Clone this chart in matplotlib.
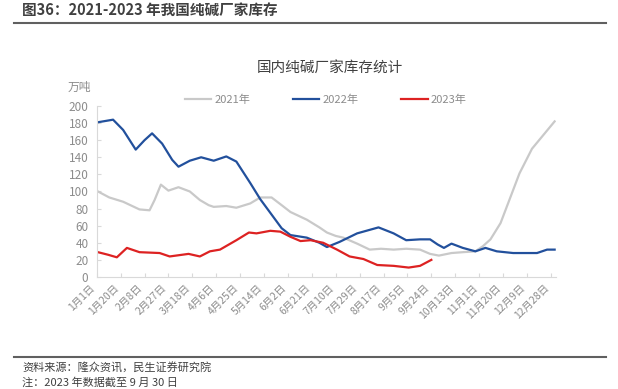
## 纯碱厂家库存 2021-2023
import numpy as np
import matplotlib.pyplot as plt

plt.rcParams['font.family'] = ['Noto Sans CJK SC', 'DejaVu Sans']

# jours depuis le 1er janvier, valeurs en 万吨
day_2021 = [1, 10, 21, 34, 42, 46, 51, 57, 65, 74, 82, 89, 93, 103, 111, 122, 130,
            139, 147, 154, 167, 177, 183, 190, 196, 207, 217, 226, 236, 246, 257,
            265, 272, 282, 291, 301, 307, 313, 321, 328, 336, 346, 364]
val_2021 = [100, 93, 88, 79, 78, 90, 108, 101, 105, 100, 90, 84, 82, 83, 81, 86, 93,
            93, 84, 76, 67, 58, 52, 48, 46, 39, 32, 33, 32, 33, 32,
            27, 25, 28, 29, 30, 36, 44, 63, 90, 121, 150, 182]

day_2022 = [1, 13, 21, 31, 38, 44, 52, 60, 65, 74, 83, 93, 103, 111, 122, 130, 139,
            147, 154, 167, 177, 183, 193, 207, 224, 236, 246, 257, 265, 271, 276,
            282, 291, 301, 309, 318, 331, 350, 358, 364]
val_2022 = [181, 184, 172, 149, 160, 168, 156, 137, 129, 136, 140, 136, 141, 135,
            110, 91, 73, 57, 49, 46, 40, 35, 41, 51, 58, 51, 43, 44, 44, 38, 34,
            39, 34, 30, 34, 30, 28, 28, 32, 32]

day_2023 = [1, 9, 16, 24, 34, 50, 58, 73, 82, 90, 98, 111, 121, 127, 138, 146, 154,
            162, 170, 180, 191, 201, 212, 223, 236, 248, 257, 266]
val_2023 = [29, 26, 23, 34, 29, 28, 24, 27, 24, 30, 32, 43, 52, 51, 54, 53, 47,
            42, 43, 40, 32, 24, 21, 14, 13, 11, 13, 20]

tick_labels = ['1月1日', '1月20日', '2月8日', '2月27日', '3月18日', '4月6日',
               '4月25日', '5月14日', '6月2日', '6月21日', '7月10日', '7月29日',
               '8月17日', '9月5日', '9月24日', '10月13日', '11月1日', '11月20日',
               '12月9日', '12月28日']

fig = plt.figure(figsize=(6.18, 3.89), dpi=100)
ax = fig.add_axes([0.1565, 0.288, 0.743, 0.4395])

ax.plot(day_2021, val_2021, color='#c9c9c9', lw=1.6, label='2021年', solid_joinstyle='round')
ax.plot(day_2022, val_2022, color='#22509c', lw=1.6, label='2022年', solid_joinstyle='round')
ax.plot(day_2023, val_2023, color='#dd2222', lw=1.6, label='2023年', solid_joinstyle='round')

ax.set_xlim(0, 365)
ax.set_ylim(0, 200)
ax.set_yticks(np.arange(0, 201, 20))
ax.set_xticks(np.arange(0, 365, 19))
ax.set_xticklabels(tick_labels, rotation=45, ha='right', fontsize=7.5, color='#8c8c8c')
ax.tick_params(axis='x', direction='in', length=3, color='#d9d9d9', pad=4)
ax.tick_params(axis='y', direction='in', length=3, color='#d9d9d9', labelsize=8.5,
               labelcolor='#8c8c8c', pad=6)
for s in ['top', 'right']:
    ax.spines[s].set_visible(False)
for s in ['left', 'bottom']:
    ax.spines[s].set_color('#d9d9d9')

fig.legend(loc='center', bbox_to_anchor=(0.527, 0.743), ncol=3, frameon=False,
           fontsize=8, labelcolor='#8c8c8c', handlelength=2.4, columnspacing=3.8,
           handletextpad=0.3)

fig.text(0.534, 0.824, '国内纯碱厂家库存统计', ha='center', va='center',
         fontsize=10.5, color='#404040')
fig.text(0.128, 0.775, '万吨', ha='center', va='center', fontsize=8.5, color='#8c8c8c')

fig.text(0.036, 0.974, '图36：2021-2023 年我国纯碱厂家库存', ha='left', va='center',
         fontsize=10.5, fontweight='bold', color='#404040')
fig.add_artist(plt.Line2D([0.023, 0.981], [0.94, 0.94], color='#606060', lw=1.5))
fig.add_artist(plt.Line2D([0.023, 0.981], [0.083, 0.083], color='#606060', lw=1.5))
fig.text(0.036, 0.052, '资料来源：隆众资讯，民生证券研究院', ha='left', va='center',
         fontsize=8, color='#404040')
fig.text(0.036, 0.003, '注：2023 年数据截至 9 月 30 日', ha='left', va='bottom',
         fontsize=8, color='#404040')

fig.savefig('out.png', dpi=100)
